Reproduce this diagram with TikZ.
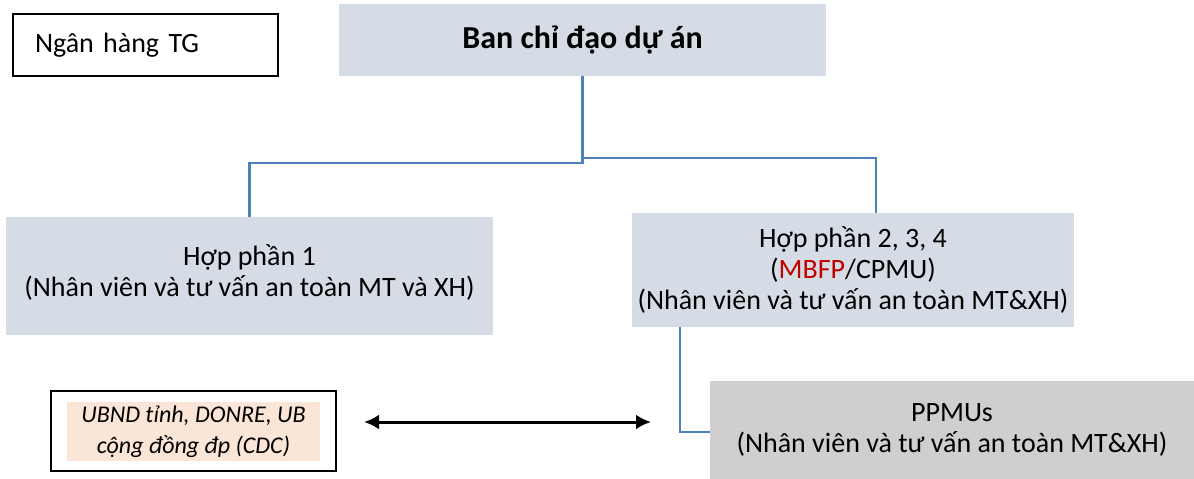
\documentclass[tikz,border=0pt]{standalone}
\usepackage{fontspec}
\setmainfont{Carlito}
\usetikzlibrary{arrows.meta}
\definecolor{paneblue}{HTML}{D6DCE5}
\definecolor{panegray}{HTML}{D0CECE}
\definecolor{peach}{HTML}{FBE5D6}
\definecolor{linkblue}{HTML}{4F81BD}
\definecolor{accentred}{HTML}{C00000}
\begin{document}
\begin{tikzpicture}[x=1pt,y=-1pt,
  every node/.style={inner sep=0pt, outer sep=0pt},
  pane/.style={rectangle, fill=paneblue, align=center, font=\fontsize{28}{31}\selectfont},
  graypane/.style={pane, fill=panegray},
  framed/.style={rectangle, draw=black, line width=2pt, fill=white},
  link/.style={draw=linkblue, line width=2.6pt},
  biarrow/.style={draw=black, line width=3pt, {Latex[length=15pt,width=15pt]}-{Latex[length=15pt,width=15pt]}}
]
\useasboundingbox (0,0) rectangle (1194,479);

% World Bank box, text set flush left
\node[framed, minimum height=62pt, text width=221pt, inner xsep=22pt, align=left,
      font=\fontsize{28}{31}\selectfont] (wb) at (145.5,45) {Ngân hàng TG};

% Steering committee
\node[pane, minimum width=487pt, minimum height=72pt,
      font=\fontsize{32}{34}\selectfont\bfseries] (ban) at (582.5,40) {Ban chỉ đạo dự án};

% Component boxes
\node[pane, minimum width=487pt, minimum height=118pt] (hp1) at (249.5,276) {};
\node[align=center, font=\fontsize{28}{31}\selectfont] (hp1txt) at (249.5,272)
  {Hợp phần 1\\(Nhân viên và tư vấn an toàn MT và XH)};
\node[pane, minimum width=442pt, minimum height=114pt] (hp2) at (853,269.5)
  {Hợp phần 2, 3, 4\\(\textcolor{accentred}{MBFP}/CPMU)\\(Nhân viên và tư vấn an toàn MT\&XH)};

% Provincial units
\node[graypane, minimum width=484pt, minimum height=98pt] (ppmu) at (952,430)
  {PPMUs\\(Nhân viên và tư vấn an toàn MT\&XH)};

% Local authorities box
\node[framed, minimum width=285pt, minimum height=80pt] (ubnd) at (193.5,431) {};
\node[rectangle, fill=peach, minimum width=253pt, minimum height=59pt, align=center,
      font=\fontsize{24}{31}\selectfont\itshape] (ubndtxt) at (193.5,431.5)
  {UBND tỉnh, DONRE, UB\\cộng đồng đp (CDC)};

% Connectors
\draw[link] (ban.south) -- (ban.south |- 0,163) -| (hp1.north);
\draw[link] (ban.south |- 0,158) -| ([xshift=23pt]hp2.north);
\draw[link] ([xshift=-173pt]hp2.south) |- ([yshift=-2pt]ppmu.west);

% Two-way exchange
\draw[biarrow] ([xshift=28pt,yshift=9pt]ubnd.east) -- ([xshift=-59pt,yshift=8pt]ppmu.west);
\end{tikzpicture}
\end{document}
